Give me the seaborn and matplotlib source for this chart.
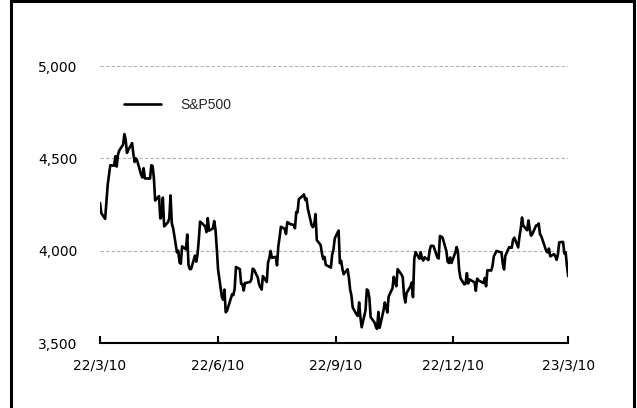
import pandas as pd
import matplotlib.pyplot as plt
import matplotlib.patches as mpatches
import seaborn as sns

# ----------- DATOS (cierres diarios S&P500) -----------

mar22 = [4259, 4204, 4173, 4262, 4358, 4412, 4463, 4461, 4512, 4456, 4520, 4543, 4575, 4632, 4602, 4530]
apr22 = [4546, 4583, 4525, 4481, 4500, 4488, 4413, 4397, 4447, 4392, 4391, 4463, 4459, 4394, 4272,
         4296, 4175, 4183, 4288, 4132]
may22 = [4155, 4175, 4300, 4147, 4123, 3991, 4001, 3936, 3930, 4024, 4008, 4088, 3923, 3901, 3901,
         3974, 3941, 3979, 4058, 4158, 4132]
jun22 = [4101, 4177, 4109, 4121, 4161, 4116, 4018, 3901, 3750, 3735, 3790, 3667, 3675, 3765, 3760,
         3796, 3912, 3901, 3822, 3819, 3785]
jul22 = [3825, 3831, 3845, 3903, 3899, 3855, 3819, 3802, 3790, 3863, 3831, 3937, 3960, 3999, 3962,
         3967, 3921, 4024, 4073, 4130]
aug22 = [4119, 4091, 4155, 4152, 4145, 4140, 4122, 4210, 4208, 4280, 4297, 4305, 4275, 4284, 4228,
         4138, 4128, 4141, 4199, 4058, 4031, 3986, 3955]
sep22 = [3967, 3924, 3909, 3980, 4006, 4067, 4110, 3933, 3946, 3901, 3873, 3900, 3856, 3790, 3758,
         3693, 3655, 3647, 3720, 3640, 3586]
oct22 = [3678, 3791, 3784, 3745, 3640, 3612, 3589, 3577, 3669, 3583, 3677, 3720, 3695, 3666, 3752,
         3797, 3859, 3830, 3808, 3901, 3872]
nov22 = [3857, 3760, 3720, 3771, 3807, 3828, 3749, 3956, 3993, 3957, 3992, 3959, 3947, 3965, 3950,
         4003, 4027, 4026, 3964, 3958, 4080]
dec22 = [4077, 4072, 3999, 3941, 3934, 3964, 3934, 3991, 4020, 3996, 3896, 3852, 3818, 3822, 3879,
         3823, 3845, 3829, 3783, 3849, 3840]
jan23 = [3825, 3853, 3808, 3895, 3893, 3919, 3970, 3983, 3999, 3991, 3929, 3899, 3973, 4020, 4017,
         4016, 4060, 4071, 4018, 4077]
feb23 = [4119, 4180, 4136, 4111, 4164, 4118, 4082, 4090, 4137, 4136, 4148, 4090, 4079, 3997, 3991,
         4012, 3970, 3982, 3970]
mar23 = [3951, 3981, 4046, 4048, 3986, 3992, 3919, 3862]

festivos = ["2022-04-15", "2022-05-30", "2022-06-20", "2022-07-04", "2022-09-05", "2022-11-24",
            "2022-12-26", "2023-01-02", "2023-01-16", "2023-02-20"]

ticks_x = ["2022-03-10", "2022-06-10", "2022-09-10", "2022-12-10", "2023-03-10"]
etiquetas_x = ["22/3/10", "22/6/10", "22/9/10", "22/12/10", "23/3/10"]
ticks_y = [3500, 4000, 4500, 5000]
etiquetas_y = ["3,500", "4,000", "4,500", "5,000"]

valores = mar22 + apr22 + may22 + jun22 + jul22 + aug22 + sep22 + oct22 + nov22 + dec22 + jan23 + feb23 + mar23
fechas = pd.date_range("2022-03-10", "2023-03-10", freq=pd.offsets.CustomBusinessDay(holidays=festivos))
assert len(fechas) == len(valores), (len(fechas), len(valores))

df = pd.DataFrame({"fecha": fechas, "S&P500": valores})

# ----------- GRAFICO -----------

sns.set_style("white")
plt.rcParams["font.family"] = ["DejaVu Sans"]

fig = plt.figure(figsize=(6.37, 4.08), dpi=100)

# marco negro alrededor del grafico (abierto por abajo como en el original)
fig.add_artist(mpatches.Rectangle((10.5 / 637, -0.05), 623 / 637, 1.05 - 1.5 / 408,
                                  transform=fig.transFigure, fill=False,
                                  edgecolor="black", linewidth=2.2))

ax = fig.add_axes([0.157, 0.159, 0.735, 0.679])

sns.lineplot(data=df, x="fecha", y="S&P500", color="black", linewidth=1.9, label="S&P500", ax=ax)

ax.set_xlim(pd.Timestamp(ticks_x[0]), pd.Timestamp(ticks_x[-1]))
ax.set_ylim(3500, 5000)
ax.set_xticks([pd.Timestamp(t) for t in ticks_x])
ax.set_xticklabels(etiquetas_x)
ax.set_yticks(ticks_y)
ax.set_yticklabels(etiquetas_y)
ax.set_xlabel("")
ax.set_ylabel("")

for y in ticks_y[1:]:
    ax.axhline(y, color="#b0b0b0", linestyle=(0, (3, 2)), linewidth=0.8, zorder=0)

for lado in ["top", "right", "left"]:
    ax.spines[lado].set_visible(False)
ax.spines["bottom"].set_linewidth(1.5)
ax.spines["bottom"].set_color("black")

ax.tick_params(axis="x", bottom=True, direction="in", length=5, width=1.5, colors="black",
               labelsize=10, pad=11)
ax.tick_params(axis="y", left=False, length=0, labelsize=10, pad=16, colors="black")

ax.legend(loc="upper left", bbox_to_anchor=(0.024, 0.93), frameon=False,
          handlelength=2.7, handletextpad=1.4,
          prop={"family": "Liberation Sans", "size": 10})

fig.savefig("out.png", dpi=100)
